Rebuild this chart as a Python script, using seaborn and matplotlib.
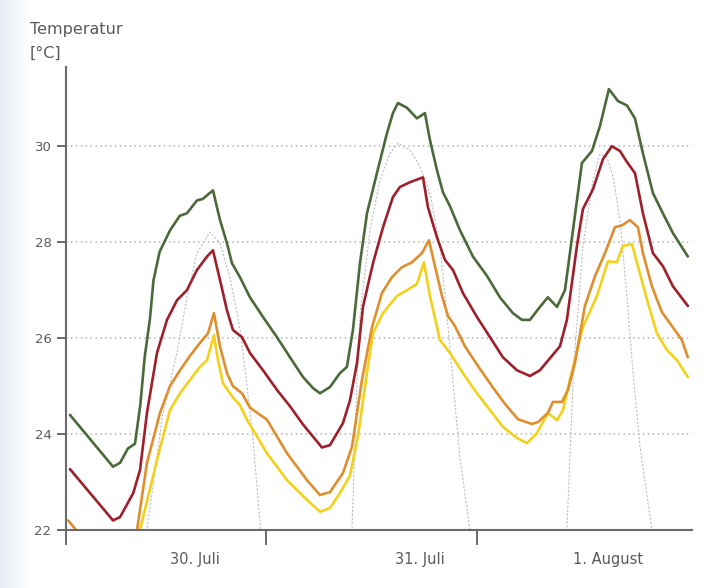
"""Temperaturverlauf 30. Juli - 1. August (seaborn line chart)."""

import matplotlib

matplotlib.use("Agg")
import matplotlib.pyplot as plt
import numpy as np
import pandas as pd
import seaborn as sns

# hours since 30 Juli 00:00, temperature in degC
green_hours = [1.7, 6.6, 7.4, 8.3, 9.1, 9.7, 10.2, 10.8, 11.2, 11.9, 13.1, 14.2,
               15.0, 16.15, 16.8, 17.97, 18.77, 19.56, 20.13, 21.04, 22.18,
               23.66, 25.25, 26.73, 28.21, 29.34, 30.14, 31.28, 32.41, 33.21,
               33.89, 34.69, 35.49, 36.62, 37.76, 38.44, 39.01, 40.04, 41.17,
               42.08, 42.65, 43.45, 44.13, 44.93, 46.06, 47.54, 49.13, 50.61,
               52.09, 53.12, 54.03, 55.16, 56.07, 57.10, 58.01, 58.92, 59.94,
               61.08, 61.99, 63.01, 64.04, 65.06, 65.97, 66.88, 68.02, 69.15,
               70.29, 71.99]
green_temp = [24.4, 23.32, 23.4, 23.7, 23.8, 24.6, 25.6, 26.4, 27.2, 27.8,
              28.25, 28.55, 28.6, 28.87, 28.9, 29.08, 28.46, 27.98, 27.56,
              27.27, 26.85, 26.44, 26.02, 25.6, 25.19, 24.96, 24.85, 24.98,
              25.27, 25.4, 26.17, 27.56, 28.6, 29.44, 30.27, 30.69, 30.9, 30.8,
              30.58, 30.69, 30.13, 29.5, 29.04, 28.75, 28.25, 27.7, 27.3, 26.85,
              26.52, 26.38, 26.38, 26.65, 26.85, 26.65, 27.0, 28.25, 29.65,
              29.9, 30.42, 31.19, 30.94, 30.85, 30.58, 29.85, 29.02, 28.6,
              28.19, 27.7]

red_hours = [1.7, 6.6, 7.4, 8.9, 9.67, 10.46, 11.6, 12.74, 13.88, 15.01, 16.15,
             17.29, 17.97, 18.77, 19.56, 20.24, 21.27, 22.18, 23.66, 25.25,
             26.73, 28.21, 30.37, 31.28, 32.76, 33.55, 34.35, 35.03, 36.17,
             37.31, 38.44, 39.24, 40.38, 41.86, 42.42, 43.45, 44.36, 45.27,
             46.4, 48.0, 49.48, 50.95, 52.55, 54.03, 55.16, 56.3, 57.44, 58.23,
             59.37, 60.05, 61.19, 62.33, 63.35, 64.26, 65.06, 65.97, 66.88,
             68.02, 69.15, 70.29, 71.99]
red_temp = [23.27, 22.2, 22.27, 22.77, 23.25, 24.44, 25.69, 26.38, 26.79, 27.0,
            27.42, 27.7, 27.83, 27.21, 26.58, 26.17, 26.02, 25.69, 25.33,
            24.92, 24.58, 24.2, 23.72, 23.77, 24.23, 24.7, 25.48, 26.65, 27.56,
            28.31, 28.94, 29.15, 29.25, 29.35, 28.73, 28.1, 27.63, 27.42, 26.94,
            26.44, 26.02, 25.6, 25.33, 25.21, 25.33, 25.58, 25.83, 26.38, 27.92,
            28.69, 29.1, 29.73, 30.0, 29.9, 29.67, 29.44, 28.6, 27.77, 27.5,
            27.08, 26.67]

orange_hours = [1.5, 2.4, 5.0, 7.0, 8.5, 9.33, 10.46, 11.94, 13.08, 14.22,
                15.35, 16.49, 17.4, 18.08, 18.77, 19.56, 20.24, 21.27, 22.18,
                24.11, 26.39, 28.66, 30.14, 31.28, 32.76, 33.78, 34.92, 36.06,
                37.19, 38.33, 39.47, 40.6, 41.74, 42.54, 43.22, 44.02, 44.7,
                45.5, 46.63, 48.11, 49.7, 51.18, 52.66, 54.25, 54.94, 56.07,
                56.64, 57.67, 58.35, 59.14, 60.28, 61.42, 62.56, 63.69, 64.49,
                65.4, 66.31, 66.88, 67.9, 69.04, 70.18, 71.31, 71.99]
orange_temp = [22.2, 22.0, 21.6, 21.4, 21.7, 22.0, 23.4, 24.44, 25.0, 25.33,
               25.63, 25.9, 26.1, 26.52, 25.83, 25.27, 25.0, 24.85, 24.55,
               24.3, 23.6, 23.04, 22.73, 22.79, 23.19, 23.73, 25.13, 26.23,
               26.94, 27.27, 27.48, 27.58, 27.77, 28.04, 27.5, 26.88, 26.46,
               26.25, 25.83, 25.42, 25.0, 24.63, 24.31, 24.21, 24.25, 24.44,
               24.67, 24.67, 24.92, 25.48, 26.67, 27.29, 27.77, 28.31, 28.35,
               28.46, 28.31, 27.77, 27.08, 26.54, 26.25, 25.96, 25.6]

yellow_hours = [1.5, 5.0, 8.0, 9.67, 11.6, 13.08, 14.22, 15.35, 16.49, 17.29,
                18.08, 18.54, 19.11, 20.13, 21.04, 21.84, 24.11, 26.39, 28.66,
                30.14, 31.28, 32.41, 33.55, 34.5, 35.5, 36.17, 37.31, 38.9,
                40.04, 41.17, 41.97, 42.65, 43.79, 44.93, 46.4, 48.0, 49.48,
                50.95, 52.55, 53.68, 54.82, 56.07, 57.1, 57.78, 58.57, 60.05,
                61.65, 62.9, 63.92, 64.6, 65.63, 66.31, 67.33, 68.47, 69.61,
                70.75, 71.99]
yellow_temp = [21.8, 21.2, 21.1, 22.0, 23.46, 24.5, 24.85, 25.13, 25.4, 25.54,
               26.06, 25.54, 25.06, 24.79, 24.6, 24.3, 23.6, 23.04, 22.63,
               22.38, 22.46, 22.77, 23.13, 24.0, 25.3, 26.1, 26.52, 26.88, 27.0,
               27.13, 27.58, 26.88, 25.96, 25.69, 25.27, 24.85, 24.5, 24.15,
               23.92, 23.81, 24.02, 24.44, 24.29, 24.5, 25.13, 26.23, 26.88,
               27.6, 27.58, 27.92, 27.96, 27.5, 26.81, 26.1, 25.75, 25.54, 25.19]

gray_hours = [1.5, 6.0, 10.46, 12.28, 13.88, 15.01, 16.15, 17.63, 18.77, 19.9,
              21.04, 21.84, 22.52, 23.4, 26.0, 30.0, 33.78, 34.35, 34.69,
              35.83, 36.96, 38.1, 39.01, 40.38, 41.51, 42.65, 43.79, 44.58,
              45.27, 46.06, 47.2, 50.0, 55.0, 58.23, 59.0, 60.05, 61.19, 61.99,
              62.78, 63.47, 64.26, 65.06, 65.74, 66.54, 67.9, 70.0, 72.4]
gray_temp = [18.0, 18.0, 22.0, 24.44, 25.69, 26.85, 27.77, 28.21, 27.98,
             27.27, 26.2, 25.0, 23.9, 22.0, 19.0, 18.0, 22.0, 25.1, 26.5,
             28.25, 29.29, 29.85, 30.06, 29.92, 29.58, 29.02, 27.92, 26.5, 25.1,
             23.52, 22.0, 18.5, 18.0, 22.0, 25.4, 27.92, 29.29, 29.83, 29.77,
             29.38, 28.46, 26.88, 25.3, 23.75, 22.0, 19.0, 18.0]

y_ticks = [22, 24, 26, 28, 30]
day_bounds = [1.25, 24, 48]
day_label_hours = [15.9, 41.5, 62.9]
day_labels = ["30. Juli", "31. Juli", "1. August"]

TEXT = "#5a5a5a"
AXIS = "#6a6a6a"

sns.set_theme(style="white")
plt.rcParams["font.family"] = ["Liberation Sans Narrow", "DejaVu Sans Condensed",
                               "DejaVu Sans"]

fig = plt.figure(figsize=(7.08, 5.88), dpi=100)

# faint bluish strip along the left edge
strip = fig.add_axes([0, 0, 0.04, 1])
strip.imshow(np.linspace(0, 1, 64)[None, :], aspect="auto",
             cmap=matplotlib.colors.LinearSegmentedColormap.from_list(
                 "strip", ["#e6edf4", "#ffffff"]))
strip.set_axis_off()

ax = fig.add_axes([0.0932, 0.0986, 0.8842, 0.7874])
ax.set_facecolor("none")

series = [
    (gray_hours, gray_temp, "#bdbdbd", 0.8, (0, (2.0, 1.5))),
    (yellow_hours, yellow_temp, "#f3d11b", 1.9, "-"),
    (orange_hours, orange_temp, "#df8e2e", 1.9, "-"),
    (red_hours, red_temp, "#9f1f2b", 1.9, "-"),
    (green_hours, green_temp, "#4b6a3a", 1.9, "-"),
]
for hours, temp, colour, width, style in series:
    frame = pd.DataFrame({"hour": hours, "temp": temp})
    sns.lineplot(data=frame, x="hour", y="temp", ax=ax, color=colour,
                 linewidth=width, linestyle=style, legend=False)

for value in y_ticks[1:]:
    ax.axhline(value, color="#b3b3b3", linewidth=1.1, linestyle=(0, (1, 2.2)),
               zorder=0)

ax.set_xlim(1.25, 72.46)
ax.set_ylim(22, 31.65)
ax.set_xlabel("")
ax.set_ylabel("")

for side in ("top", "right"):
    ax.spines[side].set_visible(False)
for side in ("left", "bottom"):
    ax.spines[side].set_color(AXIS)
    ax.spines[side].set_linewidth(1.5)

ax.set_yticks(y_ticks)
ax.tick_params(axis="y", direction="out", length=6.5, width=1.4,
               colors=AXIS, labelcolor=TEXT, labelsize=9.5, pad=4, left=True)
ax.set_xticks(day_bounds)
ax.set_xticklabels([])
ax.set_xticks(day_label_hours, minor=True)
ax.set_xticklabels(day_labels, minor=True)
ax.tick_params(axis="x", which="major", direction="out", length=11,
               width=1.4, colors=AXIS, bottom=True)
ax.tick_params(axis="x", which="minor", length=0, pad=16,
               labelcolor=TEXT, labelsize=10.5, bottom=True)

fig.text(0.042, 0.937, "Temperatur", color=TEXT, fontsize=11.5,
         ha="left", va="bottom")
fig.text(0.042, 0.897, "[°C]", color=TEXT, fontsize=11.5,
         ha="left", va="bottom")

fig.savefig("out.png", dpi=100)
